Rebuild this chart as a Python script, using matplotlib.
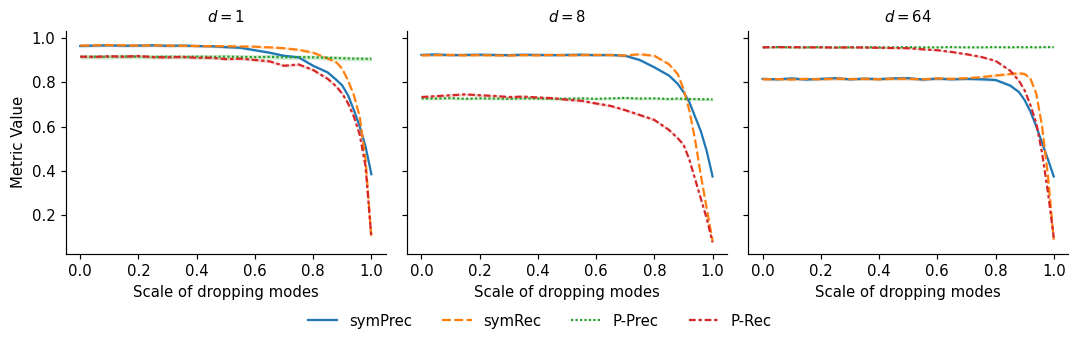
import matplotlib
matplotlib.use("Agg")
import matplotlib.pyplot as plt
import numpy as np

# x grid (scale of dropping modes)
xs = [0.00, 0.05, 0.10, 0.15, 0.20, 0.25, 0.30, 0.35, 0.40, 0.45, 0.50, 0.55,
      0.60, 0.65, 0.70, 0.75, 0.80, 0.85, 0.88, 0.90, 0.92, 0.94, 0.96, 0.98, 1.00]

metrics = ["symPrec", "symRec", "P-Prec", "P-Rec"]
dims = [1, 8, 64]

# d = 1
d1_symprec = [0.963, 0.965, 0.966, 0.964, 0.965, 0.966, 0.964, 0.965, 0.963, 0.962, 0.958, 0.955,
              0.944, 0.933, 0.919, 0.912, 0.874, 0.844, 0.810, 0.785, 0.740, 0.674, 0.600, 0.510, 0.385]
d1_symrec = [0.965, 0.966, 0.967, 0.966, 0.965, 0.966, 0.965, 0.964, 0.963, 0.962, 0.962, 0.961,
             0.960, 0.957, 0.953, 0.946, 0.933, 0.907, 0.889, 0.860, 0.807, 0.741, 0.644, 0.450, 0.100]
d1_pprec = [0.914, 0.915, 0.914, 0.916, 0.915, 0.914, 0.915, 0.914, 0.915, 0.914, 0.915, 0.914,
            0.913, 0.914, 0.912, 0.913, 0.912, 0.910, 0.909, 0.908, 0.907, 0.906, 0.906, 0.905, 0.905]
d1_prec = [0.915, 0.914, 0.917, 0.915, 0.918, 0.913, 0.912, 0.914, 0.910, 0.910, 0.904, 0.906,
           0.900, 0.894, 0.874, 0.880, 0.855, 0.815, 0.780, 0.748, 0.704, 0.644, 0.563, 0.420, 0.100]

# d = 8
d8_symprec = [0.923, 0.925, 0.922, 0.923, 0.924, 0.923, 0.922, 0.924, 0.923, 0.922, 0.923, 0.924,
              0.922, 0.923, 0.919, 0.900, 0.867, 0.830, 0.793, 0.756, 0.711, 0.644, 0.578, 0.489, 0.375]
d8_symrec = [0.921, 0.922, 0.923, 0.921, 0.922, 0.921, 0.920, 0.922, 0.921, 0.923, 0.921, 0.922,
             0.923, 0.922, 0.920, 0.926, 0.919, 0.881, 0.837, 0.770, 0.674, 0.540, 0.378, 0.230, 0.085]
d8_pprec = [0.727, 0.726, 0.728, 0.725, 0.727, 0.726, 0.725, 0.727, 0.726, 0.725, 0.726, 0.727,
            0.725, 0.727, 0.729, 0.726, 0.727, 0.724, 0.726, 0.725, 0.724, 0.724, 0.723, 0.723, 0.722]
d8_prec = [0.733, 0.737, 0.741, 0.745, 0.741, 0.738, 0.733, 0.735, 0.731, 0.728, 0.721, 0.716,
           0.704, 0.693, 0.674, 0.652, 0.630, 0.585, 0.548, 0.519, 0.452, 0.363, 0.274, 0.185, 0.078]

# d = 64
d64_symprec = [0.815, 0.813, 0.817, 0.812, 0.815, 0.818, 0.813, 0.816, 0.814, 0.817, 0.818, 0.812,
               0.816, 0.813, 0.815, 0.813, 0.810, 0.785, 0.756, 0.719, 0.667, 0.600, 0.526, 0.452, 0.375]
d64_symrec = [0.813, 0.814, 0.812, 0.815, 0.813, 0.816, 0.814, 0.815, 0.813, 0.816, 0.815, 0.813,
              0.817, 0.815, 0.818, 0.822, 0.830, 0.837, 0.840, 0.837, 0.815, 0.748, 0.600, 0.378, 0.090]
d64_pprec = [0.957, 0.958, 0.957, 0.957, 0.958, 0.957, 0.957, 0.958, 0.957, 0.957, 0.958, 0.957,
             0.957, 0.958, 0.957, 0.957, 0.958, 0.957, 0.958, 0.957, 0.958, 0.957, 0.958, 0.958, 0.958]
d64_prec = [0.957, 0.958, 0.958, 0.957, 0.957, 0.956, 0.957, 0.956, 0.955, 0.954, 0.953, 0.948,
            0.944, 0.936, 0.926, 0.914, 0.896, 0.852, 0.807, 0.763, 0.696, 0.615, 0.480, 0.304, 0.100]

# half-width of the shaded band per metric
band_d1 = [0.006, 0.006, 0.010, 0.006]
band_d8 = [0.006, 0.006, 0.006, 0.006]
band_d64 = [0.007, 0.007, 0.003, 0.004]

panels = [
    [d1_symprec, d1_symrec, d1_pprec, d1_prec],
    [d8_symprec, d8_symrec, d8_pprec, d8_prec],
    [d64_symprec, d64_symrec, d64_pprec, d64_prec],
]
bands = [band_d1, band_d8, band_d64]

colors = ["#1f77b4", "#ff7f0e", "#2ca02c", "#d62728"]
# seaborn default dash patterns
styles = ["-", (0, (4, 1.5)), (0, (1, 1)), (0, (3, 1.25, 1.5, 1.25))]

DPI = 107
fig, axes = plt.subplots(1, 3, figsize=(1079 / DPI, 346 / DPI), dpi=DPI, sharey=True)
fig.subplots_adjust(left=0.0609, right=0.9901, top=0.9113, bottom=0.2668, wspace=0.0655)

x = np.array(xs)
for ax, d, series, band in zip(axes, dims, panels, bands):
    for name, vals, c, ls, b in zip(metrics, series, colors, styles, band):
        v = np.array(vals)
        ax.fill_between(x, v - b, v + b, color=c, alpha=0.2, linewidth=0)
        ax.plot(x, v, color=c, linestyle=ls, linewidth=1.5, label=name)
    ax.set_title(f"$d = {d}$", fontsize=10)
    ax.set_xlabel("Scale of dropping modes")
    ax.spines["top"].set_visible(False)
    ax.spines["right"].set_visible(False)
    ax.set_xticks([0.0, 0.2, 0.4, 0.6, 0.8, 1.0])

axes[0].set_ylim(0.027, 1.032)
axes[0].set_yticks([0.2, 0.4, 0.6, 0.8, 1.0])
axes[0].set_ylabel("Metric Value")

handles, labels = axes[0].get_legend_handles_labels()
fig.legend(handles, labels, loc="center", bbox_to_anchor=(0.5, 0.072), ncol=4, frameon=False)

fig.savefig("out.png", dpi=DPI)
